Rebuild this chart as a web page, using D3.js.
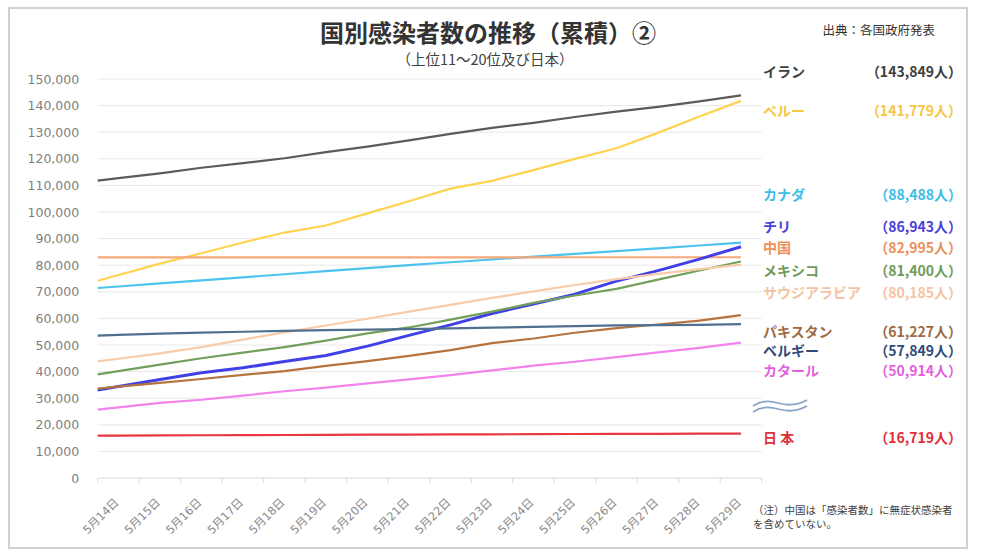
<!DOCTYPE html>
<html lang="ja">
<head>
<meta charset="utf-8">
<script src="https://cdn.jsdelivr.net/npm/d3@7/dist/d3.min.js"></script>
<style>
  body { margin: 0; background: #fff; }
  svg text { font-family: "Noto Sans CJK JP", sans-serif; }
</style>
</head>
<body>
<div id="chart"></div>
<script>
// data (cumulative cases, 5/14 - 5/29)
const dates = ['5月14日', '5月15日', '5月16日', '5月17日', '5月18日', '5月19日', '5月20日', '5月21日',
  '5月22日', '5月23日', '5月24日', '5月25日', '5月26日', '5月27日', '5月28日', '5月29日'];

const iran = [112725, 114533, 116635, 118392, 120198, 122492, 124603, 126949, 129341, 131652, 133521, 135701, 137724, 139511, 141591, 143849];
const peru = [76306, 80604, 84495, 88541, 92273, 94933, 99483, 104020, 108769, 111698, 115754, 119959, 123979, 129751, 135905, 141779];
const canada = [72000, 73150, 74300, 75450, 76600, 77750, 78900, 80050, 81100, 82150, 83200, 84250, 85300, 86350, 87400, 88488];
const china = [82929, 82933, 82941, 82947, 82954, 82960, 82965, 82967, 82971, 82974, 82974, 82992, 82993, 82993, 82995, 82995];
const chile = [34381, 37040, 39542, 41428, 43781, 46059, 49579, 53617, 57581, 61857, 65393, 69102, 73997, 77961, 82289, 86943];
const mexico = [40186, 42595, 45032, 47144, 49219, 51633, 54346, 56594, 59567, 62527, 65856, 68620, 71105, 74560, 78023, 81400];
const saudi = [44830, 46869, 49176, 52016, 54752, 57345, 59854, 62545, 65077, 67719, 70161, 72560, 74795, 76726, 78541, 80185];
const pakistan = [34336, 35788, 37218, 38799, 40151, 42125, 43966, 45898, 48091, 50694, 52437, 54601, 56349, 57705, 59151, 61227];
const belgium = [53779, 54288, 54644, 54989, 55280, 55559, 55791, 55983, 56235, 56511, 56810, 57092, 57342, 57455, 57592, 57849];
const qatar = [26539, 28272, 29425, 30972, 32604, 33969, 35606, 37097, 38651, 40481, 42213, 43714, 45465, 47207, 48947, 50914];
const japan = [15950, 16000, 16080, 16120, 16170, 16220, 16270, 16320, 16380, 16420, 16480, 16540, 16580, 16620, 16680, 16719];

const countries = ['イラン', 'ペルー', 'カナダ', 'チリ', '中国', 'メキシコ', 'サウジアラビア', 'パキスタン', 'ベルギー', 'カタール', '日 本'];
const totals = [143849, 141779, 88488, 86943, 82995, 81400, 80185, 61227, 57849, 50914, 16719];
const yTicks = d3.range(0, 150001, 10000);

// styles
const lineColors = ['#5b5b5b', '#ffd34f', '#4cc3ee', '#f5a878', '#4040e6', '#72a05a', '#f8cba9', '#b5733f', '#4f6f8f', '#f283ec', '#e8393f'];
const labelColors = ['#404040', '#f7c640', '#3dbde8', '#4a40d8', '#ea915c', '#6f9b5b', '#f4c3a5', '#9d6a44', '#2f4b79', '#e45fe0', '#e0303a'];
const labelY = [72, 111, 195, 227, 248, 271, 293, 332, 351, 371, 438];

const width = 984, height = 554;
const plot = { left: 97.7, right: 761.7, top: 79, bottom: 478 };

const svg = d3.select('#chart')
    .append('svg')
    .attr('width', width)
    .attr('height', height);

// frame
svg.append('rect')
    .attr('x', 9).attr('y', 8)
    .attr('width', 958).attr('height', 540)
    .attr('fill', 'none')
    .attr('stroke', '#d0d0d0')
    .attr('stroke-width', 2);

const x = d3.scaleBand().domain(dates).range([plot.left, plot.right]);
const y = d3.scaleLinear().domain([0, 150000]).range([plot.bottom, plot.top]);

// gridlines
svg.append('g')
    .selectAll('line')
    .data(yTicks.filter(d => d > 0))
    .join('line')
    .attr('x1', plot.left).attr('x2', plot.right)
    .attr('y1', d => y(d)).attr('y2', d => y(d))
    .attr('stroke', '#e8e8e8')
    .attr('stroke-width', 1);

// y axis labels
const yAxis = svg.append('g')
    .attr('transform', `translate(${plot.left},0)`)
    .call(d3.axisLeft(y).tickValues(yTicks).tickSize(0).tickPadding(18.5).tickFormat(d3.format(',')));
yAxis.select('.domain').remove();
yAxis.selectAll('text')
    .attr('fill', '#7f7f7f')
    .style('font-family', '"DejaVu Sans", sans-serif')
    .style('font-size', '12.5px');

// x axis: baseline, boundary ticks, rotated labels
svg.append('line')
    .attr('x1', plot.left).attr('x2', plot.right)
    .attr('y1', plot.bottom).attr('y2', plot.bottom)
    .attr('stroke', '#d9d9d9');

svg.append('g')
    .selectAll('line')
    .data(dates.concat(['end']))
    .join('line')
    .attr('x1', d => d === 'end' ? plot.right : x(d))
    .attr('x2', d => d === 'end' ? plot.right : x(d))
    .attr('y1', plot.bottom).attr('y2', plot.bottom + 5)
    .attr('stroke', '#d9d9d9');

const xAxis = svg.append('g')
    .attr('transform', `translate(0,${plot.bottom})`)
    .call(d3.axisBottom(x).tickSize(0));
xAxis.select('.domain').remove();
xAxis.selectAll('text')
    .attr('y', 0).attr('dy', 0)
    .attr('transform', 'translate(1,25) rotate(-45)')
    .attr('text-anchor', 'end')
    .attr('fill', '#8a8a8a')
    .style('font-family', '"DejaVu Sans", "Noto Sans CJK JP", sans-serif')
    .style('font-size', '11.5px');

// lines (first segment continues to the left edge of the plot)
const seriesValues = [iran, peru, canada, china, chile, mexico, saudi, pakistan, belgium, qatar, japan];
const order = [0, 1, 2, 3, 4, 5, 6, 7, 8, 9, 10];
const half = x.bandwidth() / 2;

function linePoints(values) {
  const pts = values.map((v, i) => [x(dates[i]) + half, y(v)]);
  const [p0, p1] = pts;
  const t = (p0[0] - plot.left) / (p1[0] - p0[0]);
  return [[plot.left, p0[1] - (p1[1] - p0[1]) * t]].concat(pts);
}

const line = d3.line();

svg.append('g')
    .selectAll('path')
    .data(order)
    .join('path')
    .attr('d', i => line(linePoints(seriesValues[i])))
    .attr('fill', 'none')
    .attr('stroke', i => lineColors[i])
    .attr('stroke-width', i => countries[i] === '中国' ? 3 : 2.2)
    .attr('stroke-linejoin', 'round');

// legend labels
const legend = svg.append('g');
legend.selectAll('.name')
    .data(countries)
    .join('text')
    .attr('class', 'name')
    .attr('x', 763)
    .attr('y', (d, i) => labelY[i])
    .attr('dy', '0.36em')
    .attr('fill', (d, i) => labelColors[i])
    .style('font-size', '14px')
    .style('font-weight', 'bold')
    .text(d => d);

legend.selectAll('.total')
    .data(totals)
    .join('text')
    .attr('class', 'total')
    .attr('x', 962)
    .attr('y', (d, i) => labelY[i])
    .attr('dy', '0.36em')
    .attr('text-anchor', 'end')
    .attr('fill', (d, i) => labelColors[i])
    .style('font-size', '14px')
    .style('font-weight', 'bold')
    .text(d => `（${d3.format(',')(d)}人）`);

// axis break mark
const wave = svg.append('g')
    .attr('fill', 'none')
    .attr('stroke', '#8ba6c6')
    .attr('stroke-width', 1.8);
wave.append('path').attr('d', 'M753,406 C760,401 768,400 778,403 S798,405 807,400');
wave.append('path').attr('d', 'M753,412 C760,407 768,406 778,409 S798,411 807,406');

// titles
svg.append('text')
    .attr('x', 488).attr('y', 42)
    .attr('text-anchor', 'middle')
    .attr('fill', '#333')
    .style('font-size', '24px')
    .style('font-weight', 'bold')
    .text('国別感染者数の推移（累積）②');

svg.append('text')
    .attr('x', 485).attr('y', 65)
    .attr('text-anchor', 'middle')
    .attr('fill', '#404040')
    .style('font-size', '14.5px')
    .text('（上位11～20位及び日本）');

svg.append('text')
    .attr('x', 935).attr('y', 35)
    .attr('text-anchor', 'end')
    .attr('fill', '#333')
    .style('font-size', '12.5px')
    .text('出典：各国政府発表');

// note
svg.append('text')
    .attr('x', 753).attr('y', 514)
    .attr('fill', '#404040')
    .style('font-size', '10.5px')
    .text('（注）中国は「感染者数」に無症状感染者');
svg.append('text')
    .attr('x', 753).attr('y', 528)
    .attr('fill', '#404040')
    .style('font-size', '10.5px')
    .text('を含めていない。');
</script>
</body>
</html>
